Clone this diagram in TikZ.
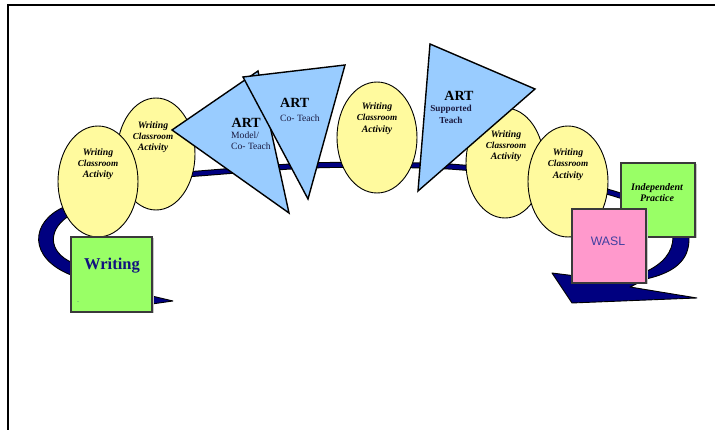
\documentclass[tikz,border=0pt]{standalone}
\usepackage{fontspec}
\setmainfont{Liberation Serif}
\newfontfamily\waslfont{Liberation Sans}
\usetikzlibrary{shapes.geometric}
\definecolor{ellY}{HTML}{FFFA9E}
\definecolor{triB}{HTML}{99CCFF}
\definecolor{grnB}{HTML}{99FF66}
\definecolor{pnkB}{HTML}{FF99CC}
\definecolor{bandC}{HTML}{000080}
\definecolor{boxLine}{HTML}{3A3A3A}
\definecolor{wrTxt}{HTML}{12127F}
\definecolor{subTxt}{HTML}{1A1A40}
\definecolor{waslTxt}{HTML}{3F3FA0}
\tikzset{
  ellip/.style={ellipse, draw=black, line width=0.9pt, fill=ellY, inner sep=0pt},
  tri/.style={draw=black, line width=1.4pt, fill=triB, line join=miter},
  sqbox/.style={rectangle, draw=boxLine, line width=1.2pt, inner sep=0pt},
  shad/.style={fill=black!22},
  band/.style={fill=bandC, draw=black, line width=0.9pt, line join=round},
  wca/.style={font=\bfseries\itshape\fontsize{9.8}{11.2}\selectfont, align=center, inner sep=0pt},
  artbig/.style={font=\bfseries\fontsize{14}{16}\selectfont, inner sep=0pt},
  artsub/.style={font=\fontsize{9.6}{10.6}\selectfont, text=subTxt, inner sep=0pt},
}
\newcommand{\clsr}{{\fontsize{9.2}{11.2}\selectfont Classroom}}
\begin{document}
\begin{tikzpicture}[x=1pt,y=-1pt]
\useasboundingbox (0,0) rectangle (715,430);
\draw[line width=2pt] (8.3,430) -- (8.3,5) -- (715,5);

% ribbon, left part
\path[band] (64,207) .. controls (30,222) and (28,258) .. (71,275) -- (152,296) -- (173,301) -- (152,304) -- (100,292) -- (73,263) .. controls (47,252) and (47,228) .. (72,214) -- cycle;
% ribbon, middle part
\draw[line width=6pt, black] plot[smooth, tension=0.6] coordinates {(100,181) (192,174) (300,166) (377,165) (456,167) (540,177) (612,193) (668,214)};
\draw[line width=4pt, bandC] plot[smooth, tension=0.6] coordinates {(100,181) (192,174) (300,166) (377,165) (456,167) (540,177) (612,193) (668,214)};
% ribbon, right part with arrow
\path[band] (660,210) -- (689,224) -- (689,237) .. controls (690,262) and (672,273) .. (646,279) -- (630,287) -- (697,298) -- (572,303) -- (552,273) -- (600,279) -- (645,272) .. controls (663,264) and (673,252) .. (673,237) -- (673,226) -- cycle;

% left ellipses and Writing box
\node[ellip, minimum width=78pt, minimum height=112pt] (e2) at (156,154) {};
\node[ellip, minimum width=80pt, minimum height=111pt] (e1) at (98,181.5) {};
\fill[shad] (72.5,238.5) rectangle (153.5,313.5);
\node[sqbox, fill=grnB, minimum width=81pt, minimum height=75pt] (wbox) at (111.5,274.5) {};

% ART triangles
\path[tri] (172,130) -- (258,71) -- (289,213) -- cycle;
\path[tri] (243,77) -- (345,65) -- (308,199) -- cycle;

% middle ellipse
\node[ellip, minimum width=80pt, minimum height=111pt] (e3) at (377,137.5) {};

% right ellipses and triangle
\node[ellip, minimum width=78pt, minimum height=110pt] (e4) at (505,163) {};
\path[tri] (430,44) -- (535,89) -- (418,191) -- cycle;
\node[ellip, minimum width=80pt, minimum height=111pt] (e5) at (568,181.5) {};

% right boxes
\fill[shad] (622.5,164.5) rectangle (696.5,238.5);
\node[sqbox, fill=grnB, minimum width=74pt, minimum height=74pt] (ibox) at (658,200) {};
\fill[shad] (573.5,210.5) rectangle (647.5,284.5);
\node[sqbox, fill=pnkB, minimum width=74pt, minimum height=74pt] (wasl) at (609,246) {};

% texts
\node[wca] (t1) at (98,164) {Writing\\\clsr\\Activity};
\node[wca] (t2) at (153,137) {Writing\\\clsr\\Activity};
\node[wca] (t3) at (377,118.5) {Writing\\\clsr\\Activity};
\node[wca] (t4) at (506,146) {Writing\\\clsr\\Activity};
\node[wca] (t5) at (568,164.5) {Writing\\\clsr\\Activity};

\node[artbig, anchor=west] (a1) at (231.5,123) {ART};
\node[artsub, anchor=north west, align=left] (a1s) at (231,132) {Model/\\Co- Teach};
\node[artbig, anchor=west] (a2) at (280,103) {ART};
\node[artsub, anchor=west] (a2s) at (280,118) {Co- Teach};
\node[artbig] (a3) at (459,96) {ART};
\node[artsub, font=\bfseries\fontsize{9.2}{12}\selectfont, align=center, anchor=north] (a3s) at (451,105) {Supported\\Teach};

\node[wca, font=\bfseries\itshape\fontsize{10}{11.5}\selectfont] (ip) at (657,192.5) {Independent\\Practice};
\node[font=\bfseries\fontsize{16.5}{18}\selectfont, text=wrTxt, inner sep=0pt] (wt) at (112,266) {Writing};
\node[font=\fontsize{6}{6}\selectfont, text=wrTxt, inner sep=0pt, anchor=base] (dot) at (78,303) {.};
\node[font=\waslfont\fontsize{12.3}{14}\selectfont, text=waslTxt, inner sep=0pt] (wl) at (608,241) {WASL};
\end{tikzpicture}
\end{document}
